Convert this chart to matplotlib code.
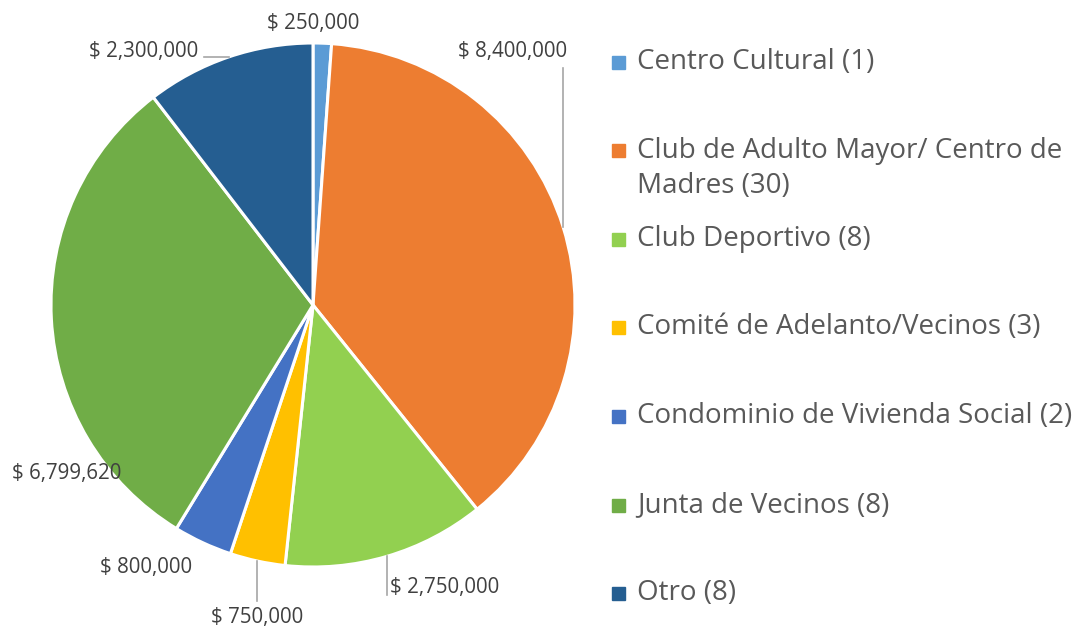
import matplotlib.pyplot as plt
import numpy as np

# Data
categories = ["Centro Cultural (1)", "Club de Adulto Mayor/ Centro de\nMadres (30)",
              "Club Deportivo (8)", "Comité de Adelanto/Vecinos (3)",
              "Condominio de Vivienda Social (2)", "Junta de Vecinos (8)", "Otro (8)"]
amounts = [250000, 8400000, 2750000, 750000, 800000, 6799620, 2300000]
colors = ["#5B9BD5", "#ED7D31", "#92D050", "#FFC000", "#4472C4", "#70AD47", "#255E91"]

W, H = 1079, 627
plt.rcParams['font.family'] = ['Open Sans', 'DejaVu Sans']

fig = plt.figure(figsize=(W / 100, H / 100), dpi=100)
ax = fig.add_axes([0, 0, 1, 1])

cx, cy, r = 313, H - 305, 262
wedges, _ = ax.pie(amounts, colors=colors, startangle=90, counterclock=False,
                   center=(cx, cy), radius=r,
                   wedgeprops=dict(edgecolor="white", linewidth=2.2))
ax.set_xlim(0, W)
ax.set_ylim(0, H)
ax.set_aspect("equal")
ax.axis("off")


def fmt(v):
    return "$ {:,}".format(v)


# label layout: (text x, text y in image px, ha, leader end (x or y) or None)
layout = [
    (313, 24, "center", None),
    (567, 52, "right", (None, 68)),
    (390, 588, "left", (None, 595)),
    (257, 618, "center", (None, 601)),
    (146, 567, "center", None),
    (67, 473, "center", None),
    (198, 52, "right", (204, None)),
]

for w, v, (tx, ty, ha, lead) in zip(wedges, amounts, layout):
    mid = np.deg2rad((w.theta1 + w.theta2) / 2)
    px, py = cx + r * np.cos(mid), cy + r * np.sin(mid)
    if lead is not None:
        lx, ly = lead
        ex = px if lx is None else lx
        ey = py if ly is None else H - ly
        ax.plot([px, ex], [py, ey], color="#A6A6A6", lw=1.2)
    ax.text(tx, H - ty, fmt(v), ha=ha, va="center", fontsize=14.8, color="#404040")

# legend
rows_y = [62, 168.5, 239, 327, 416, 505, 593]
for lab, c, y in zip(categories, colors, rows_y):
    my = y - 18.5 if "\n" in lab else y
    ax.add_patch(plt.Rectangle((612, H - my - 6.5), 13, 13, color=c))
    ax.text(637, H - y, lab, ha="left", va="center", fontsize=20,
            color="#595959", linespacing=1.3)

plt.savefig("out.png", dpi=100)
